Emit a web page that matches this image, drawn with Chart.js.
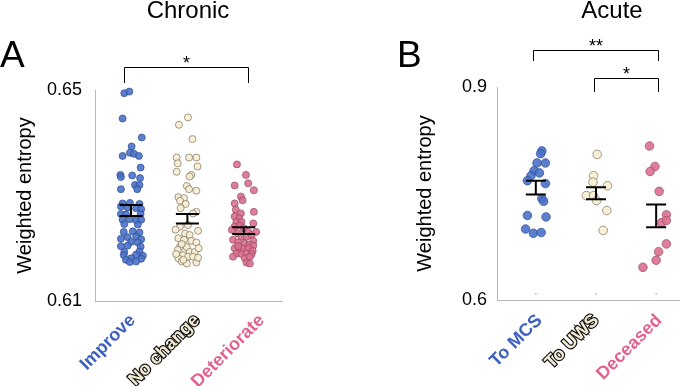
<!DOCTYPE html>
<html>
<head>
<meta charset="utf-8">
<script src="https://cdn.jsdelivr.net/npm/chart.js@4.4.0/dist/chart.umd.min.js"></script>
<style>
  html, body { margin: 0; padding: 0; background: #fff; }
  #wrap { position: relative; width: 685px; height: 386px; overflow: hidden; }
  #chronic { position: absolute; left: 0; top: 0; }
  #acute { position: absolute; left: 340px; top: 0; }
</style>
</head>
<body>
<div id="wrap">
  <canvas id="chronic" width="340" height="386"></canvas>
  <canvas id="acute" width="345" height="386"></canvas>
</div>
<script>
// ---- Chronic (panel A) ----
const chronicCats = ['Improve', 'No change', 'Deteriorate'];
const chronicTicks = [0.61, 0.65];

const improveX = [0.88, 0.97, 0.85, 1.19, 1.01, 0.85, 0.98, 1.05, 1.14, 1.17, 0.81, 0.82, 1.02, 1.16, 0.82, 1.07, 1.15, 1.11,
  0.85, 0.98, 1.15, 0.82, 0.94, 1.09, 1.18, 0.82, 0.91, 1.17, 0.85, 0.98, 1.09, 1.18, 0.88, 1.12,
  0.87, 1.03, 1.15, 0.94, 1.09, 0.82, 1.18, 1.00, 1.12, 0.82, 0.94, 1.17, 0.88, 1.15, 0.87, 1.09, 1.21, 1.00, 1.18, 0.91, 0.98, 1.09];
const improveY = [0.6494, 0.6497, 0.6446, 0.6410, 0.6393, 0.6375, 0.6381, 0.6379, 0.6375, 0.6353, 0.6339, 0.6335, 0.6338, 0.6333, 0.6312, 0.6320, 0.6320, 0.6312,
  0.6285, 0.6286, 0.6284, 0.6279, 0.6277, 0.6276, 0.6274, 0.6265, 0.6264, 0.6265, 0.6254, 0.6255, 0.6253, 0.6254, 0.6246, 0.6245,
  0.6231, 0.6232, 0.6230, 0.6221, 0.6222, 0.6218, 0.6217, 0.6212, 0.6211, 0.6204, 0.6205, 0.6203, 0.6193, 0.6194, 0.6187, 0.6188, 0.6186, 0.6181, 0.6180, 0.6178, 0.6174, 0.6175];

const noChangeX = [2.01, 1.85, 2.09, 1.81, 2.03, 2.16, 1.83, 2.18, 1.81, 2.07, 2.04, 1.99, 2.03, 2.16, 1.84, 1.94, 1.87, 1.97, 1.88, 2.16,
  2.10, 1.87, 2.01, 1.96, 2.04, 1.84, 1.94, 2.07, 2.16, 1.87, 1.99, 1.83, 2.04, 2.13, 1.92, 2.01, 1.84, 2.10, 1.90, 1.99,
  2.16, 1.79, 2.19, 1.90, 2.20, 1.80, 2.19, 1.93];
const noChangeY = [0.6448, 0.6434, 0.6407, 0.6372, 0.6372, 0.6372, 0.6361, 0.6355, 0.6345, 0.6339, 0.6336, 0.6318, 0.6312, 0.6309, 0.6297, 0.6295, 0.6290, 0.6284, 0.6276, 0.6269,
  0.6266, 0.6241, 0.6244, 0.6228, 0.6225, 0.6219, 0.6216, 0.6214, 0.6211, 0.6203, 0.6202, 0.6197, 0.6193, 0.6193, 0.6187, 0.6184, 0.6181, 0.6184, 0.6175, 0.6171,
  0.6173, 0.6235, 0.6233, 0.6208, 0.6200, 0.6189, 0.6182, 0.6178];

const deteriorateX = [2.88, 3.04, 3.08, 2.84, 3.18, 2.95, 2.98, 2.84, 2.86, 3.18, 2.95, 2.84, 2.92, 2.87, 2.96, 3.17, 2.84, 2.93, 2.90, 3.08,
  2.96, 3.05, 3.14, 2.81, 3.17, 2.90, 3.02, 3.10, 3.17, 2.84, 2.93, 2.99, 3.08, 3.16, 2.87, 2.96, 3.05, 3.14, 2.81, 3.02,
  3.11, 3.05, 3.11, 2.79, 3.00, 3.22, 2.90];
const deteriorateY = [0.6359, 0.6339, 0.6323, 0.6319, 0.6310, 0.6298, 0.6291, 0.6285, 0.6273, 0.6269, 0.6266, 0.6260, 0.6257, 0.6250, 0.6250, 0.6247, 0.6241, 0.6243, 0.6228, 0.6231,
  0.6222, 0.6222, 0.6225, 0.6216, 0.6214, 0.6211, 0.6209, 0.6207, 0.6205, 0.6200, 0.6197, 0.6199, 0.6200, 0.6195, 0.6190, 0.6189, 0.6190, 0.6189, 0.6184, 0.6181,
  0.6184, 0.6173, 0.6171, 0.6235, 0.6238, 0.6231, 0.6204];

const chronicMean = [0.62715, 0.6256, 0.62335];
const chronicSE = [0.00105, 0.0009, 0.00065];

// ---- Acute (panel B) ----
const acuteCats = ['To MCS', 'To UWS', 'Deceased'];
const acuteTicks = [0.6, 0.9];

const mcsX = [1.10, 1.08, 1.02, 1.16, 0.97, 1.06, 0.92, 0.86, 1.16, 1.10, 1.13, 0.86, 1.17, 0.83, 0.96, 1.09];
const mcsY = [0.810, 0.806, 0.793, 0.793, 0.782, 0.779, 0.775, 0.768, 0.764, 0.743, 0.739, 0.719, 0.717, 0.700, 0.694, 0.695];
const uwsX = [2.02, 1.96, 1.95, 2.19, 1.84, 1.96, 2.01, 2.18, 2.12];
const uwsY = [0.805, 0.775, 0.766, 0.761, 0.747, 0.747, 0.740, 0.726, 0.698];
const deceasedX = [2.89, 2.98, 2.90, 3.05, 3.17, 3.09, 3.17, 3.17, 3.04, 3.00, 2.78];
const deceasedY = [0.817, 0.788, 0.781, 0.753, 0.720, 0.709, 0.712, 0.679, 0.668, 0.656, 0.646];
const baseMarkY = [0.6085, 0.6085, 0.6085];

const acuteMean = [0.7583, 0.7504, 0.7184];
const acuteSE = [0.0097, 0.0085, 0.016];

const FONT = "'Liberation Sans', Arial, Helvetica, sans-serif";
Chart.defaults.font.family = FONT;
Chart.defaults.color = '#000';

const fills = ['rgba(74,114,201,0.9)', 'rgba(249,238,212,0.95)', 'rgba(217,113,143,0.9)'];
const edges = ['#2c4c94', '#7a705c', '#9a4862'];
const labelFill = ['#3d5fc0', '#f4ebd3', '#e3628b'];

// error bars, significance brackets, panel letter and header
const decor = {
  id: 'decor',
  afterDatasetsDraw(chart, args, o) {
    const { ctx, chartArea } = chart;
    const xs = chart.scales.x, ys = chart.scales.y;
    ctx.save();
    ctx.strokeStyle = '#000';
    ctx.lineWidth = 2;
    o.means.forEach((m, i) => {
      const px = xs.getPixelForValue(i + 1);
      const hi = ys.getPixelForValue(m + o.errors[i]);
      const lo = ys.getPixelForValue(m - o.errors[i]);
      ctx.beginPath();
      ctx.moveTo(px - o.cap, hi); ctx.lineTo(px + o.cap, hi);
      ctx.moveTo(px, hi); ctx.lineTo(px, lo);
      ctx.moveTo(px - o.cap, lo); ctx.lineTo(px + o.cap, lo);
      ctx.stroke();
    });

    ctx.lineWidth = 1;
    ctx.fillStyle = '#000';
    ctx.textAlign = 'center';
    ctx.textBaseline = 'alphabetic';
    ctx.font = '18px ' + FONT;
    o.brackets.forEach(b => {
      const x1 = Math.round(xs.getPixelForValue(b.from)) + 0.5;
      const x2 = Math.round(xs.getPixelForValue(b.to)) + 0.5;
      const yb = Math.round(chartArea.top - b.bar) + 0.5;
      const yl = chartArea.top - b.leg;
      ctx.beginPath();
      ctx.moveTo(x1, yl); ctx.lineTo(x1, yb); ctx.lineTo(x2, yb); ctx.lineTo(x2, yl);
      ctx.stroke();
      ctx.fillText(b.text, (x1 + x2) / 2, yb + 1);
    });

    ctx.textAlign = 'left';
    ctx.font = '37px ' + FONT;
    ctx.fillText(o.letter, o.letterX, 67);
    ctx.textAlign = 'center';
    ctx.font = '24px ' + FONT;
    ctx.fillText(o.header, o.headerX, 18);
    ctx.restore();
  }
};

function groupSets(groups, radius) {
  return groups.map((g, i) => ({
    label: g.name,
    data: g.x.map((x, k) => ({ x, y: g.y[k] })),
    backgroundColor: fills[i],
    borderColor: edges[i],
    borderWidth: 0.7,
    pointRadius: radius,
    clip: false
  }));
}

function axes(o) {
  return {
    x: {
      type: 'linear', min: o.xMin, max: o.xMax,
      afterFit: s => { s.height = o.xHeight; },
      afterBuildTicks: s => { s.ticks = o.labelAt.map(value => ({ value })); },
      grid: { display: false, drawTicks: false },
      border: { display: true, color: '#b8b8b8', width: 1 },
      ticks: {
        autoSkip: false, minRotation: 45, maxRotation: 45, padding: o.labelPad,
        callback: (v, i) => o.cats[i],
        color: c => labelFill[c.index],
        textStrokeColor: c => c.index === 1 ? '#111' : '',
        textStrokeWidth: c => c.index === 1 ? 2.4 : 0,
        font: { size: 18, weight: 'bold' }
      }
    },
    y: {
      min: o.ticks[0], max: o.ticks[1],
      afterFit: s => { s.width = o.yWidth; },
      afterBuildTicks: s => { s.ticks = o.ticks.map(value => ({ value })); },
      grid: { display: false, drawTicks: false },
      border: { display: true, color: '#b8b8b8', width: 1 },
      ticks: { padding: o.tickPad, font: { size: 18 }, callback: v => String(v) },
      title: { display: true, text: 'Weighted entropy', font: { size: 20 }, padding: 0 }
    }
  };
}

new Chart(document.getElementById('chronic'), {
  type: 'scatter',
  data: {
    datasets: groupSets([
      { name: chronicCats[0], x: improveX, y: improveY },
      { name: chronicCats[1], x: noChangeX, y: noChangeY },
      { name: chronicCats[2], x: deteriorateX, y: deteriorateY }
    ], 3.5)
  },
  options: {
    responsive: false,
    animation: false,
    devicePixelRatio: 1,
    layout: { padding: { left: 13, top: 90, right: 58, bottom: 0 } },
    scales: axes({ cats: chronicCats, ticks: chronicTicks, xMin: 0.36, xMax: 3.68, xHeight: 85, yWidth: 82,
      tickPad: 13, labelPad: 9, labelAt: [1.03, 2.17, 3.32] }),
    plugins: {
      legend: { display: false },
      tooltip: { enabled: false },
      decor: {
        means: chronicMean, errors: chronicSE, cap: 11.5,
        brackets: [{ from: 0.876, to: 3.08, text: '*', bar: 23, leg: 7 }],
        letter: 'A', letterX: 0, header: 'Chronic', headerX: 188
      }
    }
  },
  plugins: [decor]
});

new Chart(document.getElementById('acute'), {
  type: 'scatter',
  data: {
    datasets: groupSets([
      { name: acuteCats[0], x: mcsX, y: mcsY },
      { name: acuteCats[1], x: uwsX, y: uwsY },
      { name: acuteCats[2], x: deceasedX, y: deceasedY }
    ], 4.3).concat([{
      label: 'base',
      data: baseMarkY.map((y, i) => ({ x: i + 1, y })),
      backgroundColor: '#c8c8c8',
      borderWidth: 0,
      pointRadius: 1
    }])
  },
  options: {
    responsive: false,
    animation: false,
    devicePixelRatio: 1,
    layout: { padding: { left: 73, top: 87, right: 0, bottom: 0 } },
    scales: axes({ cats: acuteCats, ticks: acuteTicks, xMin: 0.355, xMax: 3.39, xHeight: 86, yWidth: 84,
      tickPad: 10, labelPad: 10, labelAt: [1.06, 2.0, 3.05] }),
    plugins: {
      legend: { display: false },
      tooltip: { enabled: false },
      decor: {
        means: acuteMean, errors: acuteSE, cap: 10,
        brackets: [
          { from: 0.95, to: 3.03, text: '**', bar: 37, leg: 26 },
          { from: 1.97, to: 3.03, text: '*', bar: 9, leg: -5 }
        ],
        letter: 'B', letterX: 57, header: 'Acute', headerX: 272
      }
    }
  },
  plugins: [decor]
});
</script>
</body>
</html>
